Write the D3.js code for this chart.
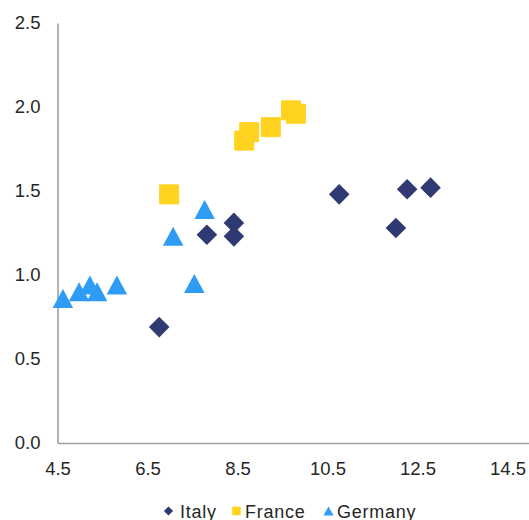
<!DOCTYPE html>
<html>
<head>
<meta charset="utf-8">
<script src="https://cdn.jsdelivr.net/npm/d3@7"></script>
<style>
  html, body { margin: 0; padding: 0; background: #fff; }
  svg { display: block; font-family: "Liberation Sans", Arial, sans-serif; }
</style>
</head>
<body>
<svg id="chart" width="529" height="520"></svg>
<script>
// Series values: [x, y] pairs
const italyX   = [6.76, 7.82, 8.42, 8.42, 10.76, 12.02, 12.27, 12.79];
const italyY   = [0.69, 1.24, 1.31, 1.23, 1.48, 1.28, 1.51, 1.52];
const franceX  = [6.98, 8.65, 8.76, 9.24, 9.69, 9.80];
const franceY  = [1.48, 1.80, 1.85, 1.88, 1.98, 1.96];
const germanyX = [4.62, 4.98, 5.22, 5.38, 5.82, 7.54, 7.07, 7.77];
const germanyY = [0.86, 0.90, 0.94, 0.90, 0.94, 0.95, 1.23, 1.39];

const xTicks = [4.5, 6.5, 8.5, 10.5, 12.5, 14.5];
const yTicks = [0.0, 0.5, 1.0, 1.5, 2.0, 2.5];
const seriesNames = ["Italy", "France", "Germany"];
const seriesColors = ["#2f3a72", "#ffd320", "#2e9bf5"];

const svg = d3.select("#chart");
const x = d3.scaleLinear().domain([4.5, 15]).range([57.5, 530]);
const y = d3.scaleLinear().domain([0, 2.5]).range([443, 23]);

// Axes
const axisColor = "#a0a0a0";
const xAxis = svg.append("g").attr("transform", `translate(0,${y(0)})`)
  .call(d3.axisBottom(x).tickValues(xTicks).tickFormat(d3.format(".1f")).tickSize(0).tickPadding(15));
const yAxis = svg.append("g").attr("transform", `translate(${x(4.5)},0)`)
  .call(d3.axisLeft(y).tickValues(yTicks).tickFormat(d3.format(".1f")).tickSize(0).tickPadding(17));
[xAxis, yAxis].forEach(g => {
  g.select(".domain").attr("stroke", axisColor).attr("stroke-width", 1.6);
  g.selectAll("text").attr("fill", "#262626").attr("font-size", 18.5)
    .attr("font-family", "'Liberation Sans', Arial, sans-serif");
});
xAxis.selectAll("text").attr("dy", "0.9em");

// Marker shapes centred on their bounding box
function diamond(r) { return `M0,${-r}L${r},0L0,${r}L${-r},0Z`; }
function square(s) { const h = s / 2; return `M${-h},${-h}H${h}V${h}H${-h}Z`; }
function triangle(w, h) { return `M0,${-h/2}L${w/2},${h/2}L${-w/2},${h/2}Z`; }

const marks = svg.append("g");
const toPts = (xs, ys) => xs.map((v, i) => [v, ys[i]]);

marks.selectAll("path.italy").data(toPts(italyX, italyY)).join("path")
  .attr("class", "italy")
  .attr("d", diamond(10.3))
  .attr("transform", d => `translate(${x(d[0])},${y(d[1])})`)
  .attr("fill", seriesColors[0]);

marks.selectAll("path.france").data(toPts(franceX, franceY)).join("path")
  .attr("class", "france")
  .attr("d", square(19))
  .attr("transform", d => `translate(${x(d[0])},${y(d[1])})`)
  .attr("fill", seriesColors[1])
  .attr("stroke", seriesColors[1]).attr("stroke-width", 1).attr("stroke-linejoin", "round");

marks.selectAll("path.germany").data(toPts(germanyX, germanyY)).join("path")
  .attr("class", "germany")
  .attr("d", triangle(20.5, 19))
  .attr("transform", d => `translate(${x(d[0])},${y(d[1])})`)
  .attr("fill", seriesColors[2]);

// Legend
const legendShapes = [diamond(4.6), square(8.5), triangle(10, 9)];
const legendX = [168.5, 236.5, 328.5];
const legendGap = [11.5, 8.5, 8.5];
const legend = svg.append("g").attr("transform", "translate(0,511)");
seriesNames.forEach((name, i) => {
  const item = legend.append("g").attr("transform", `translate(${legendX[i]},0)`);
  item.append("path").attr("d", legendShapes[i]).attr("fill", seriesColors[i]);
  item.append("text").attr("x", legendGap[i]).attr("y", 6.5)
    .attr("font-size", 18).attr("letter-spacing", 0.75)
    .attr("fill", "#262626").text(name);
});
</script>
</body>
</html>
